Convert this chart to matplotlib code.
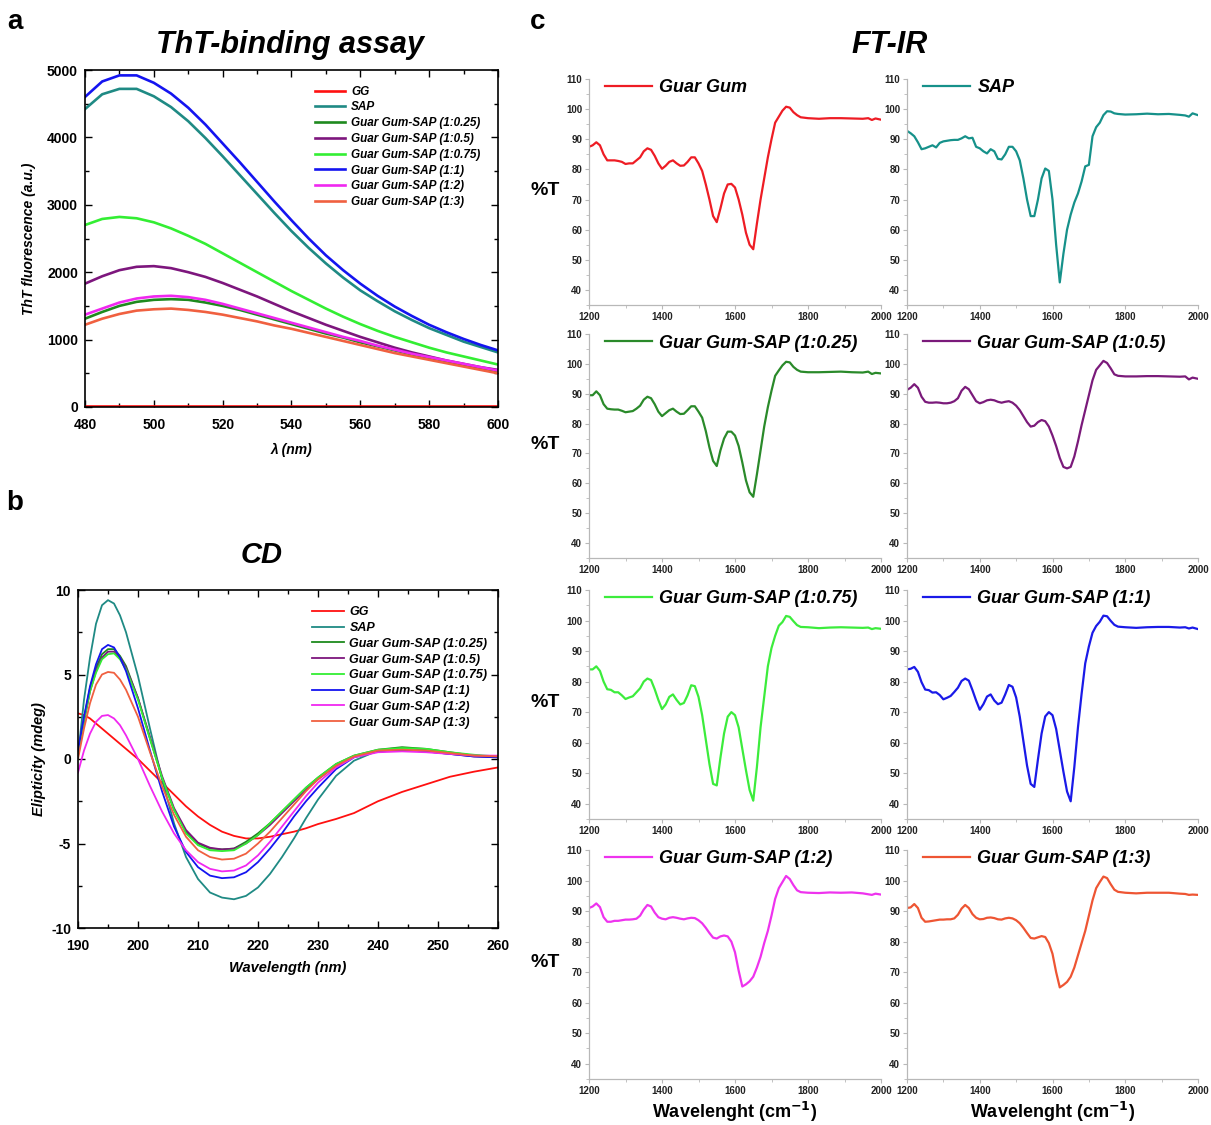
import numpy as np
import matplotlib
matplotlib.use("Agg")
import matplotlib.pyplot as plt
from matplotlib.ticker import MultipleLocator

plt.rcParams['font.family'] = ['Liberation Sans', 'DejaVu Sans']
plt.rcParams['axes.unicode_minus'] = False

labels = ['GG', 'SAP', 'Guar Gum-SAP (1:0.25)', 'Guar Gum-SAP (1:0.5)',
          'Guar Gum-SAP (1:0.75)', 'Guar Gum-SAP (1:1)', 'Guar Gum-SAP (1:2)',
          'Guar Gum-SAP (1:3)']
colors = ['#ff1010', '#1f8a84', '#1e8a1e', '#7d167d', '#33ee33', '#1414f0',
          '#f028f0', '#f06040']

# ---- ThT fluorescence (a) ----
tht_x = [480, 485, 490, 495, 500, 505, 510, 515, 520, 525, 530, 535, 540,
         545, 550, 555, 560, 565, 570, 575, 580, 585, 590, 595, 600]
tht_gg = [15, 15, 15, 15, 15, 15, 15, 15, 15, 15, 15, 15, 15,
          15, 15, 15, 15, 15, 15, 15, 15, 15, 15, 15, 15]
tht_sap = [4420, 4640, 4720, 4720, 4610, 4450, 4240, 3990, 3720, 3440, 3160, 2880, 2610,
           2360, 2130, 1920, 1730, 1570, 1420, 1290, 1170, 1070, 970, 890, 810]
tht_025 = [1310, 1410, 1500, 1560, 1590, 1600, 1590, 1550, 1500, 1440, 1370, 1300, 1230,
           1160, 1090, 1030, 960, 900, 840, 780, 730, 680, 620, 570, 520]
tht_05 = [1830, 1940, 2030, 2080, 2090, 2060, 2000, 1930, 1840, 1740, 1640, 1530, 1420,
          1320, 1220, 1130, 1040, 960, 880, 810, 750, 690, 640, 590, 550]
tht_075 = [2700, 2790, 2820, 2800, 2740, 2650, 2540, 2420, 2280, 2140, 2000, 1860, 1720,
           1590, 1460, 1340, 1230, 1130, 1040, 960, 880, 810, 750, 690, 630]
tht_11 = [4600, 4830, 4920, 4920, 4810, 4650, 4440, 4190, 3910, 3630, 3340, 3050, 2770,
          2500, 2250, 2030, 1830, 1650, 1490, 1350, 1220, 1110, 1010, 920, 840]
tht_12 = [1370, 1460, 1550, 1610, 1640, 1650, 1630, 1590, 1530, 1460, 1390, 1320, 1250,
          1180, 1110, 1040, 980, 910, 850, 790, 740, 690, 640, 590, 540]
tht_13 = [1220, 1310, 1380, 1430, 1450, 1460, 1440, 1410, 1370, 1320, 1270, 1210, 1160,
          1100, 1040, 980, 920, 860, 800, 750, 700, 650, 600, 550, 500]

# ---- CD (b) ----
cd_x = [190, 191, 192, 193, 194, 195, 196, 197, 198, 200, 202, 204, 206, 208, 210, 212,
        214, 216, 218, 220, 222, 224, 226, 228, 230, 233, 236, 240, 244, 248, 252, 256, 260]
cd_gg = [2.7, 2.6, 2.4, 2.1, 1.8, 1.5, 1.2, 0.9, 0.6, 0.0, -0.7, -1.4, -2.1, -2.8, -3.4, -3.9,
         -4.3, -4.55, -4.7, -4.7, -4.6, -4.45, -4.3, -4.1, -3.85, -3.55, -3.2, -2.5, -1.95, -1.5, -1.05, -0.75, -0.5]
cd_sap = [0.2, 3.5, 6.0, 8.0, 9.1, 9.4, 9.2, 8.5, 7.5, 4.9, 1.8, -1.2, -3.8, -5.8, -7.1, -7.9,
          -8.2, -8.3, -8.1, -7.6, -6.8, -5.8, -4.7, -3.5, -2.4, -1.0, -0.1, 0.5, 0.65, 0.55, 0.35, 0.2, 0.15]
cd_025 = [0.3, 2.4, 4.2, 5.4, 6.2, 6.5, 6.5, 6.1, 5.5, 3.6, 1.2, -1.1, -3.0, -4.3, -5.0, -5.3,
          -5.35, -5.3, -4.9, -4.4, -3.8, -3.1, -2.4, -1.7, -1.1, -0.3, 0.2, 0.55, 0.7, 0.6, 0.4, 0.2, 0.15]
cd_05 = [0.2, 2.2, 4.0, 5.2, 6.0, 6.35, 6.35, 6.0, 5.4, 3.6, 1.3, -1.0, -2.9, -4.2, -4.95, -5.25,
         -5.35, -5.3, -5.0, -4.5, -3.9, -3.2, -2.5, -1.8, -1.2, -0.4, 0.15, 0.45, 0.5, 0.45, 0.3, 0.15, 0.1]
cd_075 = [0.3, 2.3, 4.0, 5.1, 5.9, 6.2, 6.25, 5.9, 5.3, 3.5, 1.2, -1.1, -3.0, -4.4, -5.1, -5.4,
          -5.45, -5.4, -5.0, -4.5, -3.8, -3.1, -2.4, -1.7, -1.1, -0.3, 0.2, 0.55, 0.65, 0.6, 0.4, 0.25, 0.15]
cd_11 = [0.5, 2.5, 4.3, 5.6, 6.5, 6.75, 6.6, 6.0, 5.2, 3.0, 0.5, -1.9, -4.0, -5.5, -6.4, -6.9,
         -7.05, -7.0, -6.7, -6.1, -5.3, -4.4, -3.4, -2.5, -1.7, -0.6, 0.1, 0.45, 0.5, 0.45, 0.3, 0.15, 0.1]
cd_12 = [-0.8, 0.5, 1.5, 2.2, 2.55, 2.6, 2.4, 2.0, 1.4, 0.0, -1.6, -3.1, -4.4, -5.4, -6.1, -6.5,
         -6.65, -6.6, -6.3, -5.7, -4.9, -4.0, -3.1, -2.2, -1.4, -0.5, 0.1, 0.4, 0.45, 0.4, 0.3, 0.2, 0.2]
cd_13 = [0.0, 1.8, 3.3, 4.4, 5.0, 5.15, 5.1, 4.7, 4.1, 2.5, 0.4, -1.6, -3.3, -4.6, -5.4, -5.8,
         -5.95, -5.9, -5.6, -5.0, -4.3, -3.5, -2.7, -1.9, -1.2, -0.4, 0.15, 0.5, 0.55, 0.5, 0.35, 0.2, 0.15]

# ---- FT-IR (c) ----
ir_x = list(range(1200, 1790, 10)) + [1800, 1830, 1860, 1890, 1920, 1950, 1965, 1975, 1985, 2000]
ir_gg = [87.5, 88, 89, 88, 85, 83, 83, 83, 82.8, 82.5,
         81.8, 82, 82, 83, 84, 86, 87, 86.5, 84.5, 82,
         80.2, 81.2, 82.5, 83, 82, 81.2, 81.3, 82.5, 84, 84,
         82, 79.5, 75, 70, 64.5, 62.5, 67, 72, 75, 75.2,
         74, 70, 65, 59, 55, 53.5, 62, 70, 77, 84,
         90, 95.5, 97.5, 99.5, 100.8, 100.5, 99, 98, 97.3,
         97, 96.8, 97, 97, 96.9, 96.8, 97, 96.4, 96.9, 96.5]
ir_sap = [92.8, 92, 91, 89, 86.7, 87, 87.5, 88, 87.3, 88.8,
          89.3, 89.5, 89.7, 89.8, 89.8, 90.3, 91, 90.3, 90.5, 87.5,
          87, 86, 85.3, 86.7, 86, 83.5, 83.3, 85, 87.5, 87.5,
          86, 83, 77, 70, 64.5, 64.5, 70, 77, 80.3, 79.5,
          70, 55, 42.5, 52, 60, 65, 69, 72, 76, 81,
          81.5, 91, 94, 95.5, 98, 99.3, 99.2, 98.6, 98.4,
          98.2, 98.3, 98.5, 98.3, 98.4, 98.1, 97.9, 97.5, 98.6, 98]
ir_025 = [89.5, 89.5, 90.8, 89.5, 86.5, 85, 84.8, 84.7, 84.7, 84.3,
          83.8, 84, 84.2, 85, 86, 88, 89, 88.5, 86.5, 84,
          82.5, 83.5, 84.5, 85, 84, 83.2, 83.3, 84.5, 85.8, 85.8,
          84, 82, 77.5, 72, 67.5, 65.8, 71, 75, 77.3, 77.3,
          76, 72.5, 67, 61, 57, 55.5, 63, 71, 79, 85.5,
          91, 96, 97.8, 99.5, 100.7, 100.5, 99, 98, 97.4,
          97.2, 97.2, 97.3, 97.4, 97.2, 97.1, 97.4, 96.6, 97, 96.8]
ir_05 = [91.3, 92, 93.2, 92, 89, 87.3, 87, 87, 87.1, 87,
         86.8, 86.8, 87, 87.5, 88.5, 91, 92.3, 91.5, 89.5, 87.5,
         86.8, 87.2, 87.8, 88, 87.8, 87.3, 87, 87.3, 87.5, 87,
         86, 84.5, 82.5, 80.5, 79, 79.3, 80.5, 81.2, 80.8, 79,
         76, 72.5, 68.5, 65.5, 65, 65.5, 69, 74, 79.5, 84.5,
         89.5, 94.5, 98, 99.5, 101, 100.3, 98.5, 96.5, 96,
         95.8, 95.8, 95.9, 95.9, 95.8, 95.7, 95.8, 94.8, 95.4, 95]
ir_075 = [84, 84, 85, 83.5, 80, 77.5, 77.3, 76.5, 76.5, 75.5,
          74.3, 74.8, 75.2, 76.5, 77.8, 80, 81, 80.5, 77.5, 74,
          71, 72.5, 75, 75.8, 74, 72.5, 73, 75.5, 78.8, 78.5,
          75, 69, 61, 53, 46.5, 46, 55, 63, 68.5, 70,
          69, 65, 58, 51, 44.5, 41, 52, 65, 75, 85,
          91, 95, 98.3, 99.5, 101.5, 101.2, 99.8, 98.5, 97.9,
          97.8, 97.5, 97.7, 97.8, 97.7, 97.6, 97.7, 97.2, 97.5, 97.3]
ir_11 = [84, 84.2, 84.8, 83.2, 79.8, 77.4, 77.2, 76.4, 76.5, 75.6,
         74.2, 74.7, 75.3, 76.6, 78, 80.2, 81, 80.3, 77.2, 73.8,
         70.8, 72.6, 75.1, 75.8, 73.8, 72.6, 73.1, 75.8, 78.9, 78.3,
         74.8, 68.5, 60.5, 52.5, 46.5, 45.5, 54.5, 63, 68.6, 70,
         69, 64.5, 57.5, 50.5, 44, 40.8, 52, 65, 76, 86,
         91.5, 96, 98.2, 99.6, 101.6, 101.4, 99.9, 98.6, 98,
         97.8, 97.6, 97.8, 97.9, 97.9, 97.7, 97.8, 97.4, 97.7, 97.2]
ir_12 = [91, 91.5, 92.5, 91.3, 88, 86.5, 86.5, 86.8, 86.8, 87,
         87.2, 87.2, 87.3, 87.5, 88.5, 90.5, 92, 91.5, 89.5, 88,
         87.5, 87.3, 87.8, 88, 87.8, 87.5, 87.3, 87.6, 87.8, 87.7,
         87, 86, 84.5, 82.8, 81.3, 81, 81.7, 82, 81.7, 80,
         76.5, 70.5, 65.3, 66, 67, 68.5, 71.5, 75, 79.5, 83.5,
         88.5, 94, 97.5, 99.5, 101.5, 100.5, 98.5, 96.8, 96.2,
         96, 95.9, 96.1, 96, 96.1, 95.8, 95.5, 95.3, 95.7, 95.4]
ir_13 = [91, 91.2, 92.3, 91, 87.8, 86.5, 86.6, 86.8, 87, 87.2,
         87.2, 87.3, 87.3, 87.6, 88.8, 90.8, 92, 91, 89, 87.8,
         87.3, 87.4, 87.8, 87.9, 87.7, 87.3, 87.2, 87.6, 87.8, 87.6,
         87, 86, 84.5, 82.8, 81.2, 81, 81.4, 81.8, 81.5, 79.5,
         76, 70, 65, 65.8, 66.8, 68.5, 71.5, 75.5, 79.5, 83.5,
         88.5, 93.5, 97.5, 99.5, 101.3, 100.8, 98.8, 97, 96.3,
         96, 95.8, 96, 96, 96, 95.7, 95.6, 95.3, 95.4, 95.3]
ir_names = ['Guar Gum', 'SAP', 'Guar Gum-SAP (1:0.25)', 'Guar Gum-SAP (1:0.5)',
            'Guar Gum-SAP (1:0.75)', 'Guar Gum-SAP (1:1)', 'Guar Gum-SAP (1:2)',
            'Guar Gum-SAP (1:3)']
ir_colors = ['#ee1c24', '#16918a', '#2a8a2a', '#7a1a7a', '#3cec3c', '#1a1ae8',
             '#ee33ee', '#ee5533']


def style_box(ax):
    for s in ax.spines.values():
        s.set_linewidth(1.2)
    ax.tick_params(which='both', direction='in', top=True, right=True, width=1.0)
    ax.tick_params(which='major', length=5, labelsize=10)
    ax.tick_params(which='minor', length=3)
    ax.tick_params(axis='x', which='major', pad=8)
    ax.tick_params(axis='y', which='major', pad=5)
    for t in ax.get_xticklabels() + ax.get_yticklabels():
        t.set_fontweight('bold')


W, H = 1211, 1125
fig = plt.figure(figsize=(W / 100, H / 100), dpi=100)


def px_axes(left, top, right, bottom):
    return fig.add_axes([left / W, 1 - bottom / H, (right - left) / W, (bottom - top) / H])


# panel a
ax = px_axes(85, 70, 498, 407)
tht = [tht_gg, tht_sap, tht_025, tht_05, tht_075, tht_11, tht_12, tht_13]
for y, lab, c in zip(tht, labels, colors):
    ax.plot(tht_x, y, color=c, lw=1.9, label=lab)
ax.set_xlim(480, 600)
ax.set_ylim(0, 5000)
ax.xaxis.set_major_locator(MultipleLocator(20))
ax.xaxis.set_minor_locator(MultipleLocator(10))
ax.yaxis.set_major_locator(MultipleLocator(1000))
ax.yaxis.set_minor_locator(MultipleLocator(500))
style_box(ax)
ax.set_xlabel('λ (nm)', fontsize=10, fontweight='bold', fontstyle='italic', labelpad=8)
ax.set_ylabel('ThT fluorescence (a.u.)', fontsize=10, fontweight='bold', fontstyle='italic',
              labelpad=8)
ax.legend(loc='upper left', bbox_to_anchor=(0.53, 0.985), frameon=False,
          prop={'size': 8.5, 'weight': 'bold', 'style': 'italic'},
          handlelength=2.6, handletextpad=0.5, labelspacing=0.32)
fig.text(290 / W, 1 - 45 / H, 'ThT-binding assay', fontsize=22, fontweight='bold',
         fontstyle='italic', ha='center', va='center')

# panel b
ax = px_axes(78, 590, 498, 928)
cd = [cd_gg, cd_sap, cd_025, cd_05, cd_075, cd_11, cd_12, cd_13]
for y, lab, c in zip(cd, labels, colors):
    ax.plot(cd_x, y, color=c, lw=1.3, label=lab)
ax.set_xlim(190, 260)
ax.set_ylim(-10, 10)
ax.xaxis.set_major_locator(MultipleLocator(10))
ax.xaxis.set_minor_locator(MultipleLocator(5))
ax.yaxis.set_major_locator(MultipleLocator(5))
ax.yaxis.set_minor_locator(MultipleLocator(2.5))
style_box(ax)
ax.set_xlabel('Wavelength (nm)', fontsize=10.5, fontweight='bold', fontstyle='italic', labelpad=6)
ax.set_ylabel('Elipticity (mdeg)', fontsize=10.5, fontweight='bold', fontstyle='italic')
ax.legend(loc='upper left', bbox_to_anchor=(0.53, 0.985), frameon=False,
          prop={'size': 9, 'weight': 'bold', 'style': 'italic'},
          handlelength=2.6, handletextpad=0.4, labelspacing=0.3)
fig.text(262 / W, 1 - 555 / H, 'CD', fontsize=21, fontweight='bold', fontstyle='italic',
         ha='center', va='center')

# panel c
ir = [ir_gg, ir_sap, ir_025, ir_05, ir_075, ir_11, ir_12, ir_13]
cols = [(589, 881), (907, 1198)]
rows = [(79, 305), (334, 558), (590, 819), (850, 1079)]
for i, (y, name, c) in enumerate(zip(ir, ir_names, ir_colors)):
    r, k = divmod(i, 2)
    ax = px_axes(cols[k][0], rows[r][0], cols[k][1], rows[r][1])
    ax.plot(ir_x, y, color=c, lw=1.6, label=name)
    ax.set_xlim(1200, 2000)
    ax.set_ylim(35, 110)
    ax.xaxis.set_major_locator(MultipleLocator(200))
    ax.xaxis.set_minor_locator(MultipleLocator(100))
    ax.yaxis.set_minor_locator(MultipleLocator(5))
    ax.set_yticks(range(40, 111, 10))
    for s in ['top', 'right']:
        ax.spines[s].set_visible(False)
    for s in ['left', 'bottom']:
        ax.spines[s].set_color('#b8b8b8')
        ax.spines[s].set_linewidth(0.9)
    ax.tick_params(which='both', direction='out', color='#b8b8b8', labelsize=7, pad=2)
    ax.tick_params(which='major', length=3)
    ax.tick_params(which='minor', length=2)
    for t in ax.get_xticklabels() + ax.get_yticklabels():
        t.set_fontweight('bold')
        t.set_color('#222222')
    ax.legend(loc='upper left', bbox_to_anchor=(0.0, 1.07), frameon=False,
              prop={'size': 13, 'weight': 'bold', 'style': 'italic'},
              handlelength=2.6, handletextpad=0.4)
    if k == 0:
        ax.set_ylabel('%T', fontsize=14, fontweight='bold', rotation=0)
        ax.yaxis.set_label_coords(-0.15, 0.47)
    if r == 3:
        ax.set_xlabel('Wavelenght (cm$^{\\mathbf{-1}}$)', fontsize=13, fontweight='bold', labelpad=3)

fig.text(890 / W, 1 - 45 / H, 'FT-IR', fontsize=22, fontweight='bold', fontstyle='italic',
         ha='center', va='center')
fig.text(15 / W, 1 - 22 / H, 'a', fontsize=20, fontweight='bold', ha='center', va='center')
fig.text(15 / W, 1 - 503 / H, 'b', fontsize=20, fontweight='bold', ha='center', va='center')
fig.text(538 / W, 1 - 22 / H, 'c', fontsize=20, fontweight='bold', ha='center', va='center')

fig.savefig('out.png', dpi=100)
